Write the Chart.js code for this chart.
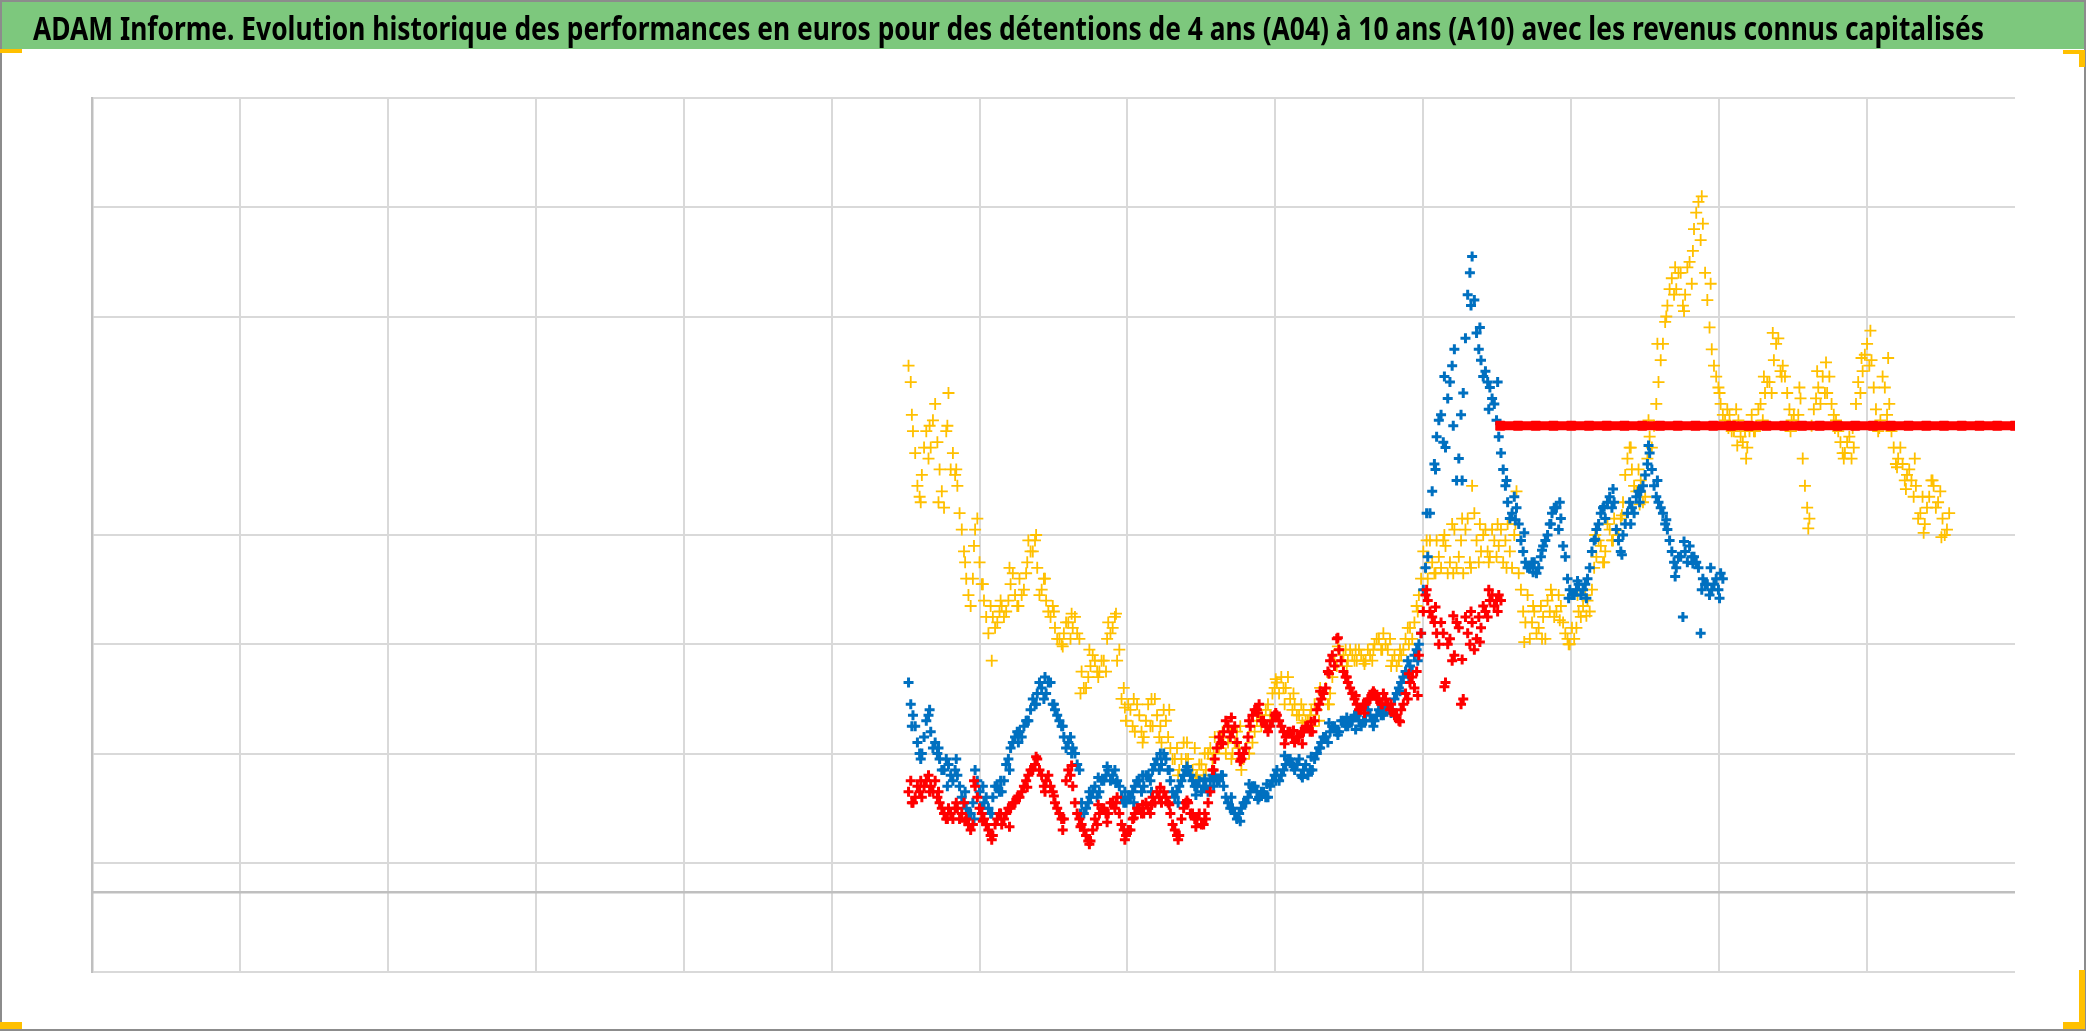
<!DOCTYPE html>
<html>
<head>
<meta charset="utf-8">
<script src="https://cdn.jsdelivr.net/npm/chart.js@4.4.1/dist/chart.umd.min.js"></script>
<style>
  html, body { margin: 0; padding: 0; background: #fff; }
  #wrap { width: 2086px; height: 1031px; }
</style>
</head>
<body>
<div id="wrap"><canvas id="chart" width="2086" height="1031"></canvas></div>
<script>
const TITLE = 'ADAM Informe. Evolution historique des performances en euros pour des détentions de 4 ans (A04) à 10 ans (A10) avec les revenus connus capitalisés';

// axis ranges (no tick labels are shown on the original)
const X_MIN = 0, X_MAX = 13;
const Y_MIN = 0, Y_MAX = 8;
const AXIS_CROSS = 0.73;   // darker horizontal axis line

// daily samples, equally spaced on the x axis; the "B" lists are the
// readings half a step later, the "C" lists the outer edge of each band
const START = 5.52, STEP = 0.03;
const START_B = START + STEP / 2;
const START_C = START + 0.0225, STEP_C = 0.06;

const yellowValues = [
  5.55, 4.95, 4.45, 4.55, 4.95, 4.80, 5.20, 4.60, 4.25, 5.30,
  4.75, 4.45, 4.05, 3.60, 3.35, 4.05, 3.75, 3.40, 3.10, 3.25,
  3.20, 3.35, 3.30, 3.55, 3.45, 3.60, 3.50, 3.95, 3.85, 3.70,
  3.50, 3.40, 3.25, 3.15, 3.05, 3.10, 3.20, 3.15, 3.10, 2.75,
  2.60, 2.80, 2.85, 2.75, 2.85, 3.20, 3.15, 2.85, 2.50, 2.30,
  2.40, 2.20, 2.35, 2.15, 2.45, 2.25, 2.35, 2.10, 2.30, 2.05,
  1.95, 1.85, 2.10, 1.95, 1.85, 1.80, 1.90, 1.85, 2.05, 2.15,
  2.05, 2.15, 2.10, 2.00, 2.20, 1.85, 2.05, 2.25, 2.20, 2.35,
  2.30, 2.45, 2.55, 2.65, 2.70, 2.60, 2.50, 2.45, 2.35, 2.40,
  2.30, 2.25, 2.40, 2.50, 2.60, 2.55, 2.85, 2.95, 2.90, 2.85,
  2.90, 2.85, 2.90, 2.85, 2.90, 3.00, 3.05, 3.10, 2.95, 2.85,
  2.80, 2.90, 3.05, 3.15, 3.20, 3.45, 3.85, 3.60, 3.75, 3.95,
  3.70, 3.90, 3.75, 4.05, 3.80, 3.65, 4.15, 4.45, 3.95, 3.85,
  4.05, 3.80, 3.95, 3.90, 3.75, 4.10, 3.70, 4.40, 3.50, 3.20,
  3.05, 3.30, 3.15, 3.25, 3.40, 3.45, 3.30, 3.35, 3.10, 3.00,
  3.05, 3.30, 3.35, 3.40, 3.50, 3.80, 3.90, 3.85, 4.05, 4.15,
  4.00, 4.30, 4.70, 4.60, 4.40, 4.50, 4.35, 4.90, 5.00, 5.40,
  5.75, 6.10, 6.35, 6.25, 6.40, 6.20, 6.50, 6.80, 7.05, 6.85,
  6.15, 5.70, 5.45, 5.20, 5.05, 5.10, 4.95, 5.05, 4.85, 4.80,
  5.10, 5.00, 5.20, 5.30, 5.40, 5.60, 5.80, 5.55, 5.30, 5.05,
  5.00, 5.25, 4.45, 4.15, 5.15, 5.35, 5.45, 5.30, 5.20, 5.05,
  4.85, 4.75, 4.90, 4.80, 5.40, 5.50, 5.75, 5.60, 5.15, 5.05,
  5.35, 5.20, 4.80, 4.70, 4.65, 4.55, 4.50, 4.45, 4.20, 4.10,
  4.35, 4.45, 4.30, 4.15, 4.05
];
const yellowValuesB = [
  5.40, 4.75, 4.35, 4.80, 4.70, 5.05, 4.85, 4.40, 4.95, 4.60,
  4.55, 4.20, 3.85, 3.45, 3.60, 4.15, 3.55, 3.25, 3.35, 3.15,
  3.30, 3.25, 3.40, 3.65, 3.35, 3.45, 3.65, 3.85, 3.95, 3.45,
  3.60, 3.30, 3.35, 3.05, 3.00, 3.20, 3.05, 3.25, 3.05, 2.60,
  2.70, 2.90, 2.75, 2.85, 2.75, 3.10, 3.25, 2.95, 2.60, 2.45,
  2.25, 2.45, 2.20, 2.30, 2.25, 2.50, 2.15, 2.40, 2.15, 1.95,
  2.05, 1.95, 1.95, 1.80, 2.05, 1.90, 1.80, 2.00, 1.95, 2.05,
  2.15, 2.00, 2.20, 2.10, 2.05, 1.95, 2.15, 2.10, 2.30, 2.25,
  2.40, 2.35, 2.60, 2.55, 2.60, 2.70, 2.40, 2.35, 2.45, 2.30,
  2.35, 2.45, 2.30, 2.55, 2.45, 2.70, 2.80, 2.85, 2.95, 2.95,
  2.85, 2.95, 2.85, 2.95, 2.85, 3.05, 2.95, 3.00, 3.05, 2.90,
  2.85, 2.95, 3.15, 3.05, 3.35, 3.60, 3.70, 3.95, 3.65, 3.80,
  3.95, 3.65, 4.10, 3.70, 3.95, 4.05, 3.75, 4.20, 3.75, 4.00,
  3.85, 4.05, 3.80, 4.05, 3.95, 3.85, 4.00, 3.65, 3.30, 3.45,
  3.20, 3.10, 3.35, 3.05, 3.30, 3.25, 3.45, 3.20, 3.05, 3.15,
  3.15, 3.25, 3.45, 3.30, 3.70, 3.95, 3.75, 4.10, 3.95, 4.05,
  4.15, 4.55, 4.80, 4.45, 4.60, 4.30, 4.70, 4.80, 5.20, 5.60,
  5.95, 6.25, 6.20, 6.40, 6.10, 6.45, 6.30, 6.95, 6.70, 6.40,
  5.90, 5.55, 5.35, 5.10, 5.15, 4.95, 5.15, 4.90, 4.95, 4.95,
  4.95, 5.15, 5.05, 5.40, 5.30, 5.75, 5.50, 5.45, 5.15, 5.10,
  5.10, 4.70, 4.25, 5.00, 5.25, 5.20, 5.30, 5.45, 5.10, 4.95,
  4.75, 4.85, 4.70, 5.20, 5.30, 5.65, 5.55, 5.35, 4.95, 5.45,
  5.10, 4.95, 4.65, 4.80, 4.50, 4.60, 4.35, 4.15, 4.35, 4.25,
  4.50, 4.25, 4.40, 4.00, 4.20
];
const yellowValuesC = [
  5.10, 4.30, 5.00, 4.30, 5.00, 4.60, 3.75, 3.90, 3.55, 2.85,
  3.40, 3.70, 3.35, 3.75, 4.00, 3.60, 3.30, 2.98, 3.28, 2.55,
  2.95, 2.70, 3.05, 3.28, 2.42, 2.50, 2.10, 2.50, 2.25, 2.40,
  1.80, 2.10, 1.78, 2.00, 2.00, 2.20, 1.95, 2.25, 2.00, 2.40,
  2.25, 2.68, 2.45, 2.55, 2.28, 2.40, 2.60, 2.45, 2.98, 2.80,
  2.95, 2.82, 2.95, 2.95, 2.80, 2.95, 3.00, 3.30, 3.95, 3.65,
  4.00, 3.65, 4.15, 3.70, 4.10, 3.75, 4.10, 3.70, 4.10, 3.02,
  3.35, 3.05, 3.50, 3.22, 3.00, 3.45, 3.26, 4.00, 3.75, 3.95,
  4.18, 4.80, 4.28, 5.05, 5.75, 6.00, 6.45, 6.05, 6.60, 7.10,
  6.30, 5.30, 4.98, 4.82, 4.70, 4.95, 5.45, 5.85, 5.45, 4.95,
  5.35, 4.06, 5.50, 5.58, 4.98, 4.70, 4.98, 5.62, 5.87, 4.98,
  5.62, 4.62, 4.42, 4.70, 4.02, 4.50, 3.98
];

const blueValues = [
  2.65, 2.35, 2.10, 2.00, 2.30, 2.20, 2.10, 1.95, 1.85, 1.90,
  1.75, 1.80, 1.60, 1.50, 1.45, 1.85, 1.65, 1.55, 1.50, 1.60,
  1.70, 1.65, 1.90, 2.05, 2.15, 2.20, 2.25, 2.30, 2.50, 2.55,
  2.60, 2.55, 2.65, 2.40, 2.30, 2.15, 2.10, 2.05, 1.90, 1.55,
  1.50, 1.60, 1.70, 1.65, 1.75, 1.85, 1.80, 1.75, 1.60, 1.55,
  1.60, 1.70, 1.75, 1.70, 1.80, 1.85, 1.95, 1.90, 1.95, 1.75,
  1.60, 1.70, 1.80, 1.85, 1.75, 1.70, 1.65, 1.70, 1.75, 1.80,
  1.75, 1.70, 1.55, 1.50, 1.40, 1.50, 1.55, 1.65, 1.70, 1.60,
  1.65, 1.60, 1.75, 1.85, 1.80, 1.90, 1.95, 1.85, 1.95, 1.85,
  1.80, 1.85, 2.00, 2.10, 2.15, 2.20, 2.25, 2.20, 2.30, 2.25,
  2.30, 2.35, 2.25, 2.30, 2.35, 2.30, 2.40, 2.35, 2.45, 2.40,
  2.55, 2.65, 2.75, 2.80, 2.90, 3.00, 3.50, 3.80, 4.40, 4.90,
  5.10, 4.80, 5.40, 5.70, 4.70, 5.30, 6.20, 6.55, 5.85, 5.60,
  5.50, 5.35, 5.20, 4.90, 4.60, 4.30, 4.20, 4.25, 3.95, 3.75,
  3.70, 3.75, 3.70, 3.90, 4.00, 4.20, 4.25, 4.15, 3.80, 3.50,
  3.45, 3.55, 3.50, 3.60, 3.85, 4.05, 4.20, 4.15, 4.35, 4.30,
  3.95, 4.00, 4.20, 4.25, 4.35, 4.40, 4.55, 4.75, 4.45, 4.30,
  4.20, 4.05, 3.85, 3.70, 3.80, 3.85, 3.90, 3.80, 3.70, 3.60,
  3.55, 3.50, 3.60, 3.65
];
const blueValuesB = [
  2.45, 2.25, 2.00, 2.15, 2.35, 2.05, 2.00, 1.85, 1.95, 1.80,
  1.85, 1.70, 1.55, 1.45, 1.55, 1.75, 1.50, 1.60, 1.45, 1.70,
  1.65, 1.75, 1.95, 2.10, 2.20, 2.15, 2.30, 2.40, 2.45, 2.65,
  2.50, 2.65, 2.45, 2.35, 2.25, 2.05, 2.15, 2.00, 1.85, 1.45,
  1.55, 1.65, 1.60, 1.75, 1.80, 1.75, 1.85, 1.70, 1.55, 1.60,
  1.65, 1.75, 1.65, 1.80, 1.75, 1.90, 1.85, 2.00, 1.85, 1.65,
  1.65, 1.75, 1.85, 1.80, 1.70, 1.75, 1.70, 1.65, 1.80, 1.75,
  1.80, 1.60, 1.50, 1.45, 1.45, 1.55, 1.60, 1.70, 1.65, 1.65,
  1.60, 1.70, 1.80, 1.75, 1.85, 1.95, 1.90, 1.90, 1.80, 1.90,
  1.85, 1.95, 2.05, 2.15, 2.10, 2.25, 2.20, 2.30, 2.25, 2.30,
  2.35, 2.30, 2.30, 2.40, 2.30, 2.35, 2.35, 2.40, 2.40, 2.50,
  2.60, 2.70, 2.85, 2.75, 2.95, 3.10, 3.70, 4.20, 4.65, 5.05,
  4.85, 5.25, 5.55, 4.50, 5.10, 5.80, 6.40, 6.15, 5.70, 5.45,
  5.40, 5.25, 5.05, 4.75, 4.45, 4.15, 4.35, 4.10, 3.85, 3.70,
  3.75, 3.65, 3.80, 3.95, 4.10, 4.25, 4.05, 3.90, 3.60, 3.45,
  3.50, 3.45, 3.55, 3.70, 3.95, 4.10, 4.25, 4.30, 4.25, 4.05,
  3.85, 4.10, 4.30, 4.20, 4.40, 4.45, 4.65, 4.60, 4.35, 4.25,
  4.10, 3.95, 3.75, 3.80, 3.25, 3.75, 3.80, 3.75, 3.10, 3.55,
  3.45, 3.55, 3.50, 3.60
];
const blueValuesC = [
  2.25, 1.95, 2.40, 2.05, 1.70, 1.95, 1.65, 1.40, 1.70, 1.45,
  1.75, 1.85, 2.10, 2.30, 2.45, 2.70, 2.45, 2.25, 2.00, 1.45,
  1.65, 1.78, 1.88, 1.73, 1.65, 1.55, 1.80, 1.65, 2.00, 1.85,
  1.55, 1.88, 1.62, 1.77, 1.70, 1.80, 1.60, 1.38, 1.72, 1.58,
  1.72, 1.75, 1.98, 1.88, 1.78, 1.97, 2.05, 2.28, 2.17, 2.33,
  2.22, 2.40, 2.25, 2.42, 2.37, 2.57, 2.70, 2.85, 4.20, 4.60,
  5.45, 5.00, 4.50, 6.10, 5.90, 5.15, 5.40, 4.50, 4.14, 4.02,
  3.66, 3.86, 4.10, 4.30, 3.42, 3.58, 3.42, 3.96, 4.26, 4.42,
  3.82, 4.10, 4.30, 4.82, 4.50, 4.14, 3.62, 3.94, 3.74, 3.50,
  3.70, 3.42
];

const redValues = [
  1.65, 1.55, 1.70, 1.60, 1.75, 1.70, 1.75, 1.55, 1.45, 1.50,
  1.40, 1.50, 1.45, 1.40, 1.30, 1.70, 1.50, 1.40, 1.30, 1.25,
  1.40, 1.35, 1.45, 1.50, 1.55, 1.60, 1.70, 1.80, 1.85, 1.95,
  1.80, 1.75, 1.70, 1.55, 1.45, 1.40, 1.85, 1.70, 1.45, 1.35,
  1.25, 1.20, 1.40, 1.45, 1.50, 1.45, 1.55, 1.60, 1.35, 1.25,
  1.30, 1.45, 1.50, 1.45, 1.50, 1.60, 1.65, 1.55, 1.60, 1.45,
  1.30, 1.25, 1.50, 1.55, 1.45, 1.40, 1.35, 1.40, 1.65, 1.95,
  2.15, 2.20, 2.25, 2.20, 2.10, 1.95, 2.05, 2.25, 2.40, 2.45,
  2.30, 2.20, 2.30, 2.35, 2.25, 2.15, 2.20, 2.10, 2.15, 2.20,
  2.25, 2.20, 2.40, 2.50, 2.60, 2.85, 2.80, 2.95, 2.75, 2.65,
  2.55, 2.45, 2.40, 2.45, 2.50, 2.55, 2.50, 2.55, 2.45, 2.40,
  2.35, 2.40, 2.55, 2.65, 2.60, 2.90, 3.30, 3.40, 3.25, 3.10,
  3.20, 2.65, 3.05, 2.90, 3.15, 2.50, 3.10, 3.20, 3.05, 3.15,
  3.30, 3.40, 3.35, 3.45
];
const redValuesB = [
  1.75, 1.60, 1.65, 1.70, 1.80, 1.65, 1.60, 1.50, 1.40, 1.45,
  1.50, 1.40, 1.55, 1.35, 1.35, 1.60, 1.45, 1.35, 1.25, 1.35,
  1.45, 1.40, 1.50, 1.55, 1.60, 1.65, 1.75, 1.85, 1.90, 1.85,
  1.70, 1.80, 1.65, 1.50, 1.40, 1.75, 1.80, 1.55, 1.40, 1.30,
  1.20, 1.30, 1.35, 1.50, 1.45, 1.55, 1.50, 1.45, 1.30, 1.30,
  1.40, 1.50, 1.45, 1.55, 1.45, 1.55, 1.60, 1.65, 1.55, 1.35,
  1.25, 1.40, 1.55, 1.45, 1.40, 1.45, 1.35, 1.55, 1.85, 2.05,
  2.10, 2.30, 2.15, 2.25, 2.00, 2.00, 2.15, 2.35, 2.40, 2.30,
  2.25, 2.25, 2.35, 2.30, 2.20, 2.20, 2.15, 2.15, 2.20, 2.25,
  2.20, 2.30, 2.45, 2.55, 2.75, 2.90, 3.05, 2.85, 2.70, 2.60,
  2.50, 2.40, 2.45, 2.50, 2.55, 2.50, 2.45, 2.50, 2.40, 2.35,
  2.30, 2.45, 2.50, 2.70, 2.75, 3.10, 3.45, 3.30, 3.20, 3.00,
  3.10, 3.00, 2.85, 3.20, 2.45, 3.25, 3.00, 2.95, 3.25, 3.35,
  3.25, 3.45, 3.40, 3.40
];
const redValuesC = [
  1.55, 1.75, 1.65, 1.65, 1.40, 1.55, 1.38, 1.75, 1.38, 1.21,
  1.45, 1.33, 1.61, 1.69, 1.97, 1.65, 1.61, 1.30, 1.89, 1.33,
  1.17, 1.53, 1.37, 1.55, 1.21, 1.41, 1.53, 1.53, 1.69, 1.53,
  1.21, 1.57, 1.33, 1.45, 1.85, 2.09, 2.33, 1.93, 2.30, 2.37,
  2.25, 2.37, 2.09, 2.21, 2.09, 2.29, 2.57, 2.73, 3.06, 2.70,
  2.53, 2.37, 2.57, 2.45, 2.45, 2.29, 2.73, 2.53, 3.50, 3.34,
  2.61, 3.26, 2.86, 3.30, 3.02, 3.50, 3.30
];

// constant red series on the right
const FLAT_START = 9.52, FLAT_END = 13.0;
const redFlatValues = [
  5, 5, 5, 5, 5, 5, 5, 5, 5, 5,
  5, 5, 5, 5, 5, 5, 5, 5, 5, 5,
  5, 5, 5, 5, 5, 5, 5, 5, 5, 5
];

function toPoints(values, start, step) {
  return values.map((v, i) => ({ x: start + i * step, y: v }));
}

function seriesPoints(a, b, c) {
  return toPoints(a, START, STEP)
    .concat(toPoints(b, START_B, STEP))
    .concat(toPoints(c, START_C, STEP_C));
}

const GRID = '#D9D9D9';
const AXIS = '#BFBFBF';

const framePlugin = {
  id: 'frame',
  beforeDraw(chart) {
    const ctx = chart.ctx;
    const W = chart.width, H = chart.height;
    ctx.save();
    ctx.fillStyle = '#FFFFFF';
    ctx.fillRect(0, 0, W, H);
    // green title band
    ctx.fillStyle = 'rgb(125, 200, 125)';
    ctx.fillRect(0, 0, W, 49);
    // title text, fitted to the band width
    ctx.fillStyle = '#000000';
    ctx.font = 'bold 32px "Noto Sans", "DejaVu Sans", sans-serif';
    ctx.textBaseline = 'alphabetic';
    const w = ctx.measureText(TITLE).width;
    ctx.translate(33, 39.5);
    ctx.scale(1951 / w, 1);
    ctx.fillText(TITLE, 0, 0);
    ctx.restore();
  },
  beforeDatasetsDraw(chart) {
    const { ctx, chartArea, scales } = chart;
    const y = scales.y.getPixelForValue(AXIS_CROSS);
    ctx.save();
    ctx.strokeStyle = AXIS;
    ctx.lineWidth = 2.5;
    ctx.beginPath();
    ctx.moveTo(chartArea.left, y);
    ctx.lineTo(chartArea.right, y);
    ctx.stroke();
    ctx.restore();
  },
  afterDraw(chart) {
    const ctx = chart.ctx;
    const W = chart.width, H = chart.height;
    ctx.save();
    // outer frame
    ctx.strokeStyle = '#8C8C8C';
    ctx.lineWidth = 2;
    ctx.strokeRect(1, 1, W - 2, H - 2);
    // yellow corner marks
    ctx.fillStyle = '#FFC000';
    ctx.fillRect(0, 49, 22, 4);
    ctx.fillRect(0, 1022, 22, 7);
    ctx.fillRect(2063, 50, 22, 4);
    ctx.fillRect(2079, 50, 6, 17);
    ctx.fillRect(2079, 970, 6, 59);
    ctx.fillRect(2063, 1022, 22, 7);
    ctx.restore();
  }
};

const ctx = document.getElementById('chart').getContext('2d');

new Chart(ctx, {
  type: 'scatter',
  data: {
    datasets: [
      {
        label: 'A10',
        data: seriesPoints(redValues, redValuesB, redValuesC),
        pointStyle: 'cross',
        pointRadius: 5,
        borderWidth: 3,
        borderColor: '#FF0000',
        backgroundColor: '#FF0000',
        order: 1
      },
      {
        label: 'A10 fixe',
        data: toPoints(redFlatValues, FLAT_START, (FLAT_END - FLAT_START) / (redFlatValues.length - 1)),
        showLine: true,
        borderWidth: 9,
        borderColor: '#FF0000',
        backgroundColor: '#FF0000',
        pointStyle: 'cross',
        pointRadius: 5,
        order: 1
      },
      {
        label: 'A07',
        data: seriesPoints(blueValues, blueValuesB, blueValuesC),
        pointStyle: 'cross',
        pointRadius: 5,
        borderWidth: 3,
        borderColor: '#0070C0',
        backgroundColor: '#0070C0',
        order: 2
      },
      {
        label: 'A04',
        data: seriesPoints(yellowValues, yellowValuesB, yellowValuesC),
        pointStyle: 'cross',
        pointRadius: 6,
        borderWidth: 1.8,
        borderColor: '#FFC000',
        backgroundColor: '#FFC000',
        order: 3
      }
    ]
  },
  options: {
    responsive: false,
    animation: false,
    devicePixelRatio: 1,
    layout: {
      padding: { left: 92, right: 71, top: 98, bottom: 59 }
    },
    plugins: {
      legend: { display: false },
      title: { display: false },
      tooltip: { enabled: false }
    },
    scales: {
      x: {
        type: 'linear',
        min: X_MIN,
        max: X_MAX,
        ticks: { display: false, stepSize: 1 },
        border: { display: false },
        grid: {
          drawTicks: false,
          lineWidth: 2,
          color: c => c.tick.value === X_MAX ? 'rgba(0,0,0,0)' : (c.tick.value === X_MIN ? AXIS : GRID)
        }
      },
      y: {
        min: Y_MIN,
        max: Y_MAX,
        ticks: { display: false, stepSize: 1 },
        border: { display: true, color: AXIS, width: 2.5 },
        grid: {
          drawTicks: false,
          lineWidth: 2,
          color: c => c.tick.value === 5 ? 'rgba(0,0,0,0)' : GRID
        }
      }
    }
  },
  plugins: [framePlugin]
});
</script>
</body>
</html>
